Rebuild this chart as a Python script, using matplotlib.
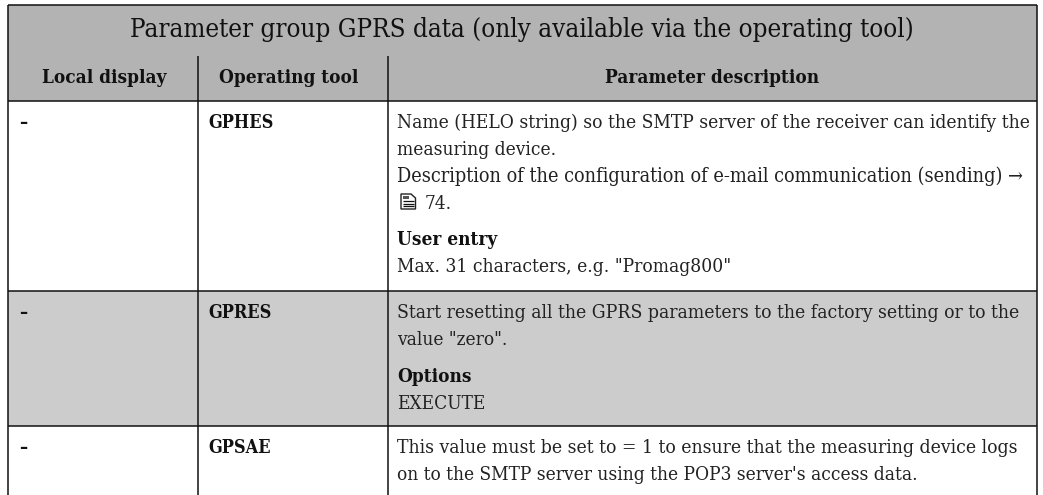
import matplotlib
matplotlib.use("Agg")
import matplotlib.pyplot as plt
from matplotlib.patches import Rectangle, Polygon

W, H = 1043, 495
TITLE = "Parameter group GPRS data (only available via the operating tool)"
HEADERS = ["Local display", "Operating tool", "Parameter description"]
DASH = "–"
TOOLS = ["GPHES", "GPRES", "GPSAE"]
ROW1 = ["Name (HELO string) so the SMTP server of the receiver can identify the",
        "measuring device.",
        "Description of the configuration of e-mail communication (sending) →",
        "74."]
ROW1B = ["User entry", "Max. 31 characters, e.g. \"Promag800\""]
ROW2 = ["Start resetting all the GPRS parameters to the factory setting or to the",
        "value \"zero\"."]
ROW2B = ["Options", "EXECUTE"]
ROW3 = ["This value must be set to = 1 to ensure that the measuring device logs",
        "on to the SMTP server using the POP3 server's access data."]

plt.rcParams["font.family"] = ["DejaVu Serif", "DejaVu Sans"]
plt.rcParams["font.stretch"] = "condensed"
fig = plt.figure(figsize=(W/100, H/100), dpi=100)
ax = fig.add_axes([0, 0, 1, 1])
ax.set_xlim(0, W); ax.set_ylim(H, 0); ax.axis("off")

L, R, C1, C2 = 8, 1037, 198, 388
Y0, Y1, Y2, Y3, Y4, YB = 5, 56, 101, 291, 426, 495
ax.add_patch(Rectangle((L, Y0), R-L, Y2-Y0, fc="#b3b3b3", ec="none"))
ax.add_patch(Rectangle((L, Y3), R-L, Y4-Y3, fc="#cccccc", ec="none"))

def ln(x0, y0, x1, y1, lw=1.1):
    ax.plot([x0, x1], [y0, y1], color="#111111", lw=lw, solid_capstyle="butt")
ln(L, Y0, R, Y0)
for y in (Y2, Y3, Y4):
    ln(L, y, R, y)
ln(L, Y0, L, YB); ln(R, Y0, R, YB)
ln(C1, Y1, C1, YB); ln(C2, Y1, C2, YB)

ax.text(522, 37, TITLE, ha="center", va="baseline", fontsize=18.6, color="#111111")
for x, h in zip((104.5, 288.5, 712), HEADERS):
    ax.text(x, 83, h, ha="center", va="baseline", fontsize=13.6, color="#111111", fontweight="bold")

TC = "#222222"
def t(x, y, s, fs=13.7):
    ax.text(x, y, s, ha="left", va="baseline", fontsize=fs, color=TC)
def b(x, y, s, fs=13.0):
    ax.text(x, y, s, ha="left", va="baseline", fontsize=fs, color="#111111", fontweight="bold")

X3, X2, X1 = 397, 208, 19
for y, tool in zip((128, 318, 453), TOOLS):
    b(X1, y, DASH); b(X2, y, tool)
for i, (s, fs) in enumerate(zip(ROW1[:3], (13.75, 13.7, 14.25))):
    t(X3, 128 + i*27, s, fs)
t(X3 + 28, 209, ROW1[3])
# page reference symbol (no installed font has it): page outline with text rules
ax.add_patch(Polygon([(401, 194), (411, 194), (415.5, 198), (415.5, 209), (401, 209)],
                     closed=True, fc="none", ec="#222222", lw=1.0))
ax.add_patch(Rectangle((403, 196), 6, 3, fc="#555555", ec="none"))
for yy in (201, 203.5, 206):
    ln(403, yy, 414, yy, lw=0.9)
b(X3, 245, ROW1B[0], 13.6); t(X3, 272, ROW1B[1], 13.8)
for i, (s, fs) in enumerate(zip(ROW2, (13.85, 13.7))):
    t(X3, 318 + i*27, s, fs)
b(X3, 382, ROW2B[0], 13.6); t(X3, 409, ROW2B[1])
for i, (s, fs) in enumerate(zip(ROW3, (13.85, 13.7))):
    t(X3, 453 + i*27, s, fs)
fig.savefig("out.png", dpi=100)
